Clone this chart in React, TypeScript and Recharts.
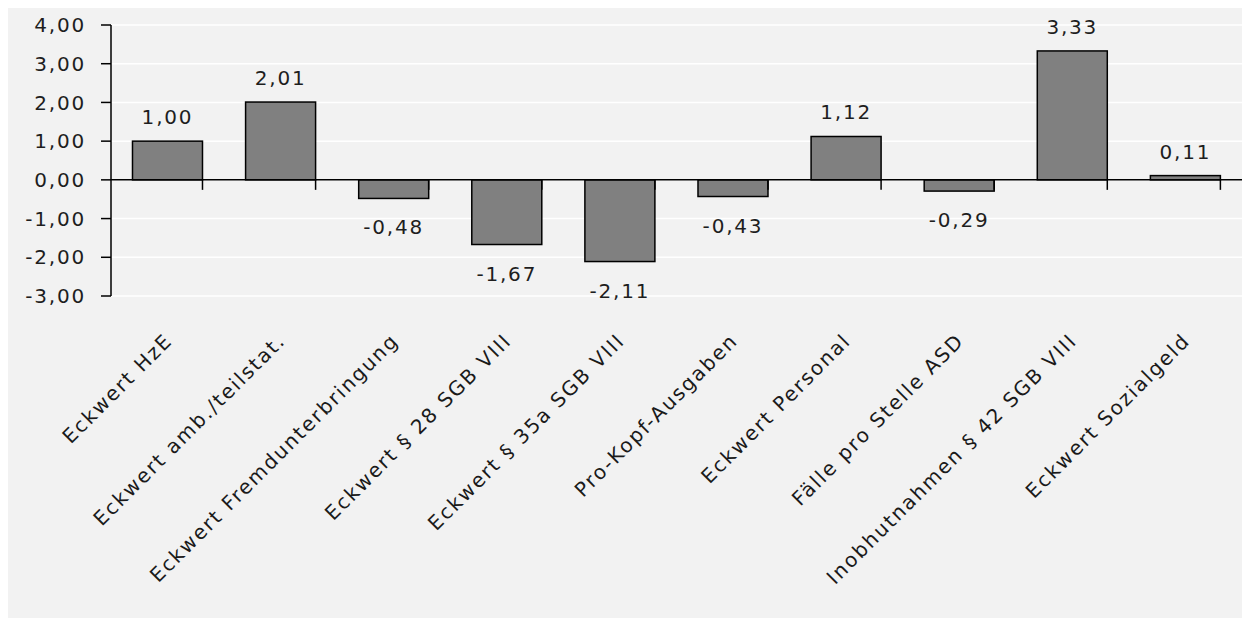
import { BarChart, Bar, XAxis, YAxis, CartesianGrid, ReferenceLine, LabelList } from 'recharts';

const categories = [
  'Eckwert HzE',
  'Eckwert amb./teilstat.',
  'Eckwert Fremdunterbringung',
  'Eckwert § 28 SGB VIII',
  'Eckwert § 35a SGB VIII',
  'Pro-Kopf-Ausgaben',
  'Eckwert Personal',
  'Fälle pro Stelle ASD',
  'Inobhutnahmen § 42 SGB VIII',
  'Eckwert Sozialgeld',
];
const values = [1.0, 2.01, -0.48, -1.67, -2.11, -0.43, 1.12, -0.29, 3.33, 0.11];
const yTicks = [-3, -2, -1, 0, 1, 2, 3, 4];

const data = categories.map((name, i) => ({ name, value: values[i] }));

const fmt = (v: number) => v.toFixed(2).replace('.', ',');
const FONT = '"DejaVu Sans", sans-serif';

// bar with the little boundary tick below the zero line
const BarShape = (props: any) => {
  const { x, y, width, height, background, payload } = props;
  const top = Math.min(y, y + height);
  const h = Math.abs(height);
  const zeroY = payload.value >= 0 ? top + h : top;
  const bx = background ? background.x + background.width : x + width;
  return (
    <g>
      <rect x={x} y={top} width={width} height={h} fill="#808080" stroke="#000" strokeWidth={1.5} />
      <line x1={bx} x2={bx} y1={zeroY} y2={zeroY + 10} stroke="#000" strokeWidth={1.5} />
    </g>
  );
};

const ValueLabel = (props: any) => {
  const { x, y, width, height, value } = props;
  const top = Math.min(y, y + height);
  const bottom = Math.max(y, y + height);
  const ty = value >= 0 ? top - 17 : bottom + 36;
  return (
    <text x={x + width / 2} y={ty} textAnchor="middle" fontFamily={FONT} fontSize={20} letterSpacing={1.8} fill="#1e1e1e">
      {fmt(value)}
    </text>
  );
};

const YTick = (props: any) => {
  const { x, y, payload } = props;
  return (
    <text x={x} y={y} dy="0.36em" textAnchor="end" fontFamily={FONT} fontSize={20} letterSpacing={1.8} fill="#1e1e1e">
      {fmt(payload.value)}
    </text>
  );
};

const XTick = (props: any) => {
  const { x, y, payload } = props;
  const ax = x + 6;
  const ay = y + 38;
  return (
    <text x={ax} y={ay} textAnchor="end" transform={`rotate(-45, ${ax}, ${ay})`} fontFamily={FONT} fontSize={20} letterSpacing={1.9} fill="#1a1a1a">
      {payload.value}
    </text>
  );
};

export default function App() {
  return (
    <div style={{ marginLeft: -1, width: 1243, height: 610, background: '#f2f2f2' }}>
      <BarChart
        width={1243}
        height={610}
        data={data}
        margin={{ top: 17, right: 8, bottom: 22, left: 0 }}
        barCategoryGap="19%"
      >
        <CartesianGrid vertical={false} stroke="#ffffff" strokeWidth={1.5} />
        <XAxis dataKey="name" axisLine={false} tickLine={false} interval={0} height={300} tick={<XTick />} />
        <YAxis
          domain={[-3, 4]}
          ticks={yTicks}
          width={104}
          tickSize={10}
          tickMargin={15}
          axisLine={{ stroke: '#000', strokeWidth: 1.5 }}
          tickLine={{ stroke: '#000', strokeWidth: 1.5 }}
          tick={<YTick />}
        />
        <ReferenceLine y={0} stroke="#000" strokeWidth={1.5} />
        <Bar dataKey="value" shape={<BarShape />} isAnimationActive={false}>
          <LabelList dataKey="value" content={<ValueLabel />} />
        </Bar>
      </BarChart>
    </div>
  );
}
